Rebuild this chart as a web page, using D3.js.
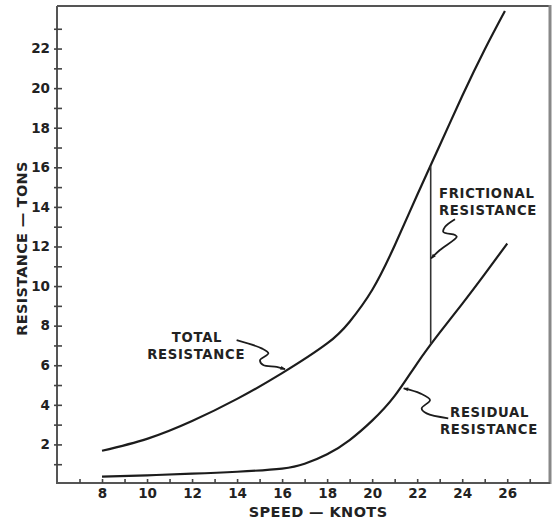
<!DOCTYPE html>
<html>
<head>
<meta charset="utf-8">
<script src="https://cdn.jsdelivr.net/npm/d3@7"></script>
<style>
  html, body { margin: 0; padding: 0; background: #fff; }
  svg { display: block; }
  text { font-family: "DejaVu Sans", sans-serif; font-weight: bold; fill: #222; }
</style>
</head>
<body>
<svg id="chart" width="560" height="519"></svg>
<script>
// Ship resistance against speed (tons vs knots)
const totalSpeed      = [8,    10,   12,   14,   16,  18,  19,  20,  21,    22,   23,   24,   25,    25.9];
const totalTons       = [1.68, 2.28, 3.18, 4.3,  5.6, 7.1, 8.2, 9.8, 12.05, 14.6, 17.1, 19.6, 21.95, 23.9];
const residualSpeed   = [8,    10,   12,   14,   16,   17,   18,  19,   20,  21,   22,  23,   24,  25,   26];
const residualTons    = [0.37, 0.44, 0.52, 0.62, 0.78, 1.02, 1.5, 2.22, 3.2, 4.45, 6.1, 7.65, 9.1, 10.6, 12.15];

// frictional resistance = gap between the two curves at this speed
const frictionalSpeed = 22.6;
const frictionalTop = 16.05;
const frictionalBottom = 7.05;

const xTicks = d3.range(7, 28);
const xLabels = [8, 10, 12, 14, 16, 18, 20, 22, 24, 26];
const yTicks = d3.range(1, 24);
const yLabels = [2, 4, 6, 8, 10, 12, 14, 16, 18, 20, 22];

// label text and leader-line paths (in speed / tons units)
const totalLabel = ["TOTAL", "RESISTANCE"];
const frictionalLabel = ["FRICTIONAL", "RESISTANCE"];
const residualLabel = ["RESIDUAL", "RESISTANCE"];
const totalLeader = [[13.98, 7.27], [15.09, 6.85], [15.39, 6.6], [15.02, 6.26], [15.16, 6.01], [15.76, 5.92], [16.13, 5.8]];
const frictionalLeader = [[23.68, 13.38], [23.24, 13.0], [23.16, 12.74], [23.68, 12.58], [23.76, 12.49], [23.01, 11.82], [22.62, 11.4]];
const residualLeader = [[21.4, 4.83], [22.13, 4.58], [22.57, 4.24], [22.2, 3.82], [22.42, 3.57], [23.38, 3.32]];

const svg = d3.select("#chart");
const plotLeft = 57, plotRight = 550, plotTop = 6, plotBottom = 484;

const x = d3.scaleLinear().domain([6, 27.9]).range([plotLeft, plotRight]);
const y = d3.scaleLinear().domain([0, 24.15]).range([plotBottom, plotTop]);

const ink = "#1c1c1c";

// frame: top and right borders
svg.append("line").attr("x1", plotLeft).attr("x2", plotRight).attr("y1", plotTop).attr("y2", plotTop)
  .attr("stroke", "#555").attr("stroke-width", 2);
svg.append("line").attr("x1", plotRight).attr("x2", plotRight).attr("y1", plotTop - 1).attr("y2", plotBottom)
  .attr("stroke", "#888").attr("stroke-width", 3);

// y axis
const yAxis = svg.append("g").attr("transform", `translate(${plotLeft},0)`)
  .call(d3.axisLeft(y).tickValues(yTicks).tickSize(-5).tickPadding(7)
    .tickFormat(d => yLabels.includes(d) ? d : ""));
yAxis.select(".domain").attr("stroke", "#555").attr("stroke-width", 2)
  .attr("d", `M0,${plotTop}V${plotBottom}`);
yAxis.selectAll(".tick line").attr("stroke", "#444").attr("stroke-width", 1.6).attr("x1", -3);
yAxis.selectAll(".tick text").style("font-size", "13.5px").attr("fill", "#222")
  .style("font-family", "DejaVu Sans").style("font-weight", "bold");

// x axis
const xAxis = svg.append("g").attr("transform", `translate(0,${plotBottom - 1})`)
  .call(d3.axisBottom(x).tickValues(xTicks).tickSize(-4).tickPadding(5)
    .tickFormat(d => xLabels.includes(d) ? d : ""));
xAxis.select(".domain").attr("stroke", "#555").attr("stroke-width", 2)
  .attr("d", `M${plotLeft},0H${plotRight}`);
xAxis.selectAll(".tick line").attr("stroke", "#444").attr("stroke-width", 1.6);
xAxis.selectAll(".tick text").style("font-size", "13.5px").attr("fill", "#222")
  .style("font-family", "DejaVu Sans").style("font-weight", "bold");

// axis titles
svg.append("text").attr("x", (x(14.4) + x(20.8)) / 2).attr("y", 517)
  .attr("text-anchor", "middle").style("font-size", "14.5px").style("letter-spacing", "0.4px")
  .text("SPEED — KNOTS");
svg.append("text").attr("transform", `translate(27,${y(11.9)}) rotate(-90)`)
  .attr("text-anchor", "middle").style("font-size", "14.5px").style("letter-spacing", "0.3px")
  .text("RESISTANCE — TONS");

// curves
const line = d3.line().x(d => x(d[0])).y(d => y(d[1])).curve(d3.curveNatural);
svg.append("path").datum(d3.zip(totalSpeed, totalTons))
  .attr("d", line).attr("fill", "none").attr("stroke", ink).attr("stroke-width", 2.2);
svg.append("path").datum(d3.zip(residualSpeed, residualTons))
  .attr("d", line).attr("fill", "none").attr("stroke", ink).attr("stroke-width", 2.2);

// frictional resistance gap
svg.append("line")
  .attr("x1", x(frictionalSpeed)).attr("x2", x(frictionalSpeed))
  .attr("y1", y(frictionalTop)).attr("y2", y(frictionalBottom))
  .attr("stroke", "#333").attr("stroke-width", 1.6);

// arrowhead for the leaders
svg.append("defs").append("marker")
  .attr("id", "tip").attr("viewBox", "0 0 10 10").attr("refX", 9).attr("refY", 5)
  .attr("markerWidth", 7).attr("markerHeight", 5).attr("orient", "auto-start-reverse")
  .attr("markerUnits", "userSpaceOnUse")
  .append("path").attr("d", "M0,1L10,5L0,9Z").attr("fill", ink);

const leader = d3.line().x(d => x(d[0])).y(d => y(d[1])).curve(d3.curveCatmullRom.alpha(0.5));
svg.append("path").attr("d", leader(totalLeader)).attr("fill", "none")
  .attr("stroke", ink).attr("stroke-width", 1.8).attr("marker-end", "url(#tip)");
svg.append("path").attr("d", leader(frictionalLeader)).attr("fill", "none")
  .attr("stroke", ink).attr("stroke-width", 1.8).attr("marker-end", "url(#tip)");
svg.append("path").attr("d", leader(residualLeader)).attr("fill", "none")
  .attr("stroke", ink).attr("stroke-width", 1.8).attr("marker-start", "url(#tip)");

// annotation text
function label(lines, anchor, pts) {
  lines.forEach((t, i) => {
    svg.append("text").attr("x", x(pts[i][0])).attr("y", y(pts[i][1]))
      .attr("text-anchor", anchor).style("font-size", "13.2px").style("letter-spacing", "0.7px")
      .text(t);
  });
}
label(totalLabel, "middle", [[12.22, 7.17], [12.18, 6.31]]);
label(frictionalLabel, "start", [[22.97, 14.46], [22.97, 13.59]]);
label(residualLabel, "start", [[23.46, 3.4], [23.01, 2.53]]);
</script>
</body>
</html>
